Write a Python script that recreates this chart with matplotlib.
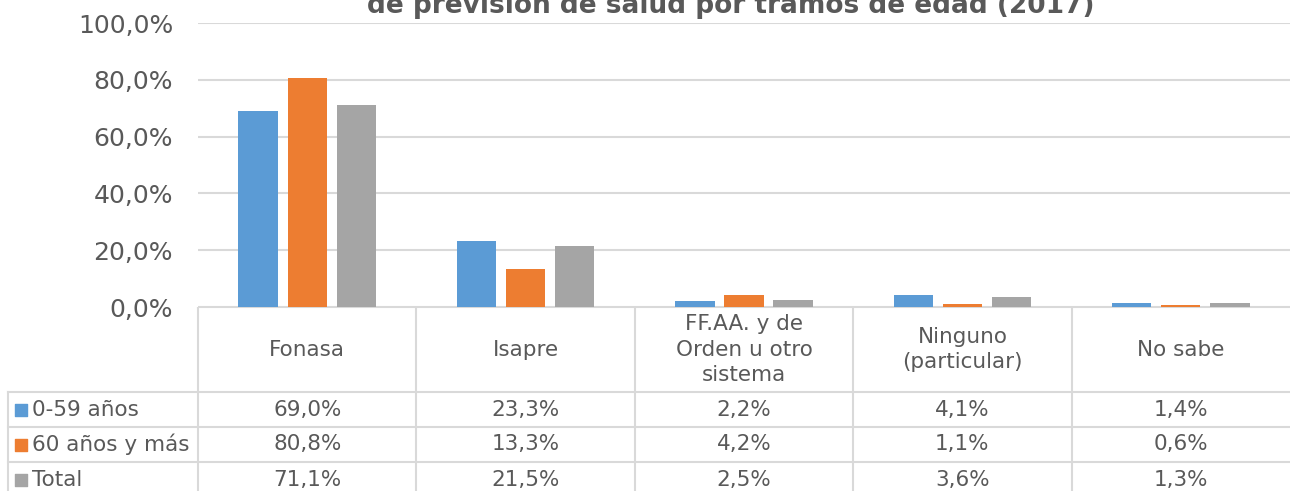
import matplotlib
matplotlib.use("Agg")
from matplotlib import pyplot as plt
import numpy as np

# Data
categories = ["Fonasa", "Isapre", "FF.AA. y de\nOrden u otro\nsistema",
              "Ninguno\n(particular)", "No sabe"]
series_names = ["0-59 años", "60 años y más", "Total"]
edad_0_59 = [69.0, 23.3, 2.2, 4.1, 1.4]
edad_60_mas = [80.8, 13.3, 4.2, 1.1, 0.6]
total = [71.1, 21.5, 2.5, 3.6, 1.3]
colors = ["#5B9BD5", "#ED7D31", "#A5A5A5"]
title = "de previsión de salud por tramos de edad (2017)"

text_color = "#595959"
grid_color = "#D9D9D9"

W, H = 1290, 491
fig = plt.figure(figsize=(W / 100, H / 100), dpi=100)

# Plot area in pixels
left, right, top, bottom = 198, 1290, 23, 307
ax = fig.add_axes([left / W, (H - bottom) / H, (right - left) / W, (bottom - top) / H])

series = [edad_0_59, edad_60_mas, total]
x = np.arange(len(categories))
width = 0.18
step = 0.225
for i, (vals, col) in enumerate(zip(series, colors)):
    ax.bar(x + (i - 1) * step, vals, width=width, color=col, zorder=3)

ax.set_xlim(-0.5, len(categories) - 0.5)
ax.set_ylim(0, 100)
ax.set_yticks(np.arange(0, 101, 20))
ax.set_yticklabels([f"{v:.1f}%".replace(".", ",") for v in np.arange(0, 101, 20)])
ax.tick_params(axis="y", length=0, pad=18, labelsize=18, labelcolor=text_color)
ax.set_xticks([])
for s in ax.spines.values():
    s.set_visible(False)
ax.yaxis.grid(True, color=grid_color, linewidth=1.5, zorder=0)
ax.set_axisbelow(True)

# the first title line lies above the picture; only its second line shows
fig.text(731 / W, (H - 13) / H, title, ha="center", va="baseline",
         fontsize=19, fontweight="bold", color=text_color)

# Data table below the plot, in pixel units (y measured down from axis line)
unit = (right - left) / len(categories)
def px2x(px):
    return -0.5 + (px - left) / unit

tab = fig.add_axes([0, 0, 1, (H - bottom) / H])
tab.set_xlim(px2x(0), len(categories) - 0.5)
tab.set_ylim(H - bottom, 0)
tab.axis("off")

header_h = 85
row_h = 35
lw = 1.5
tab.plot([-0.5, len(categories) - 0.5], [0, 0], color=grid_color, lw=lw)
for r in range(3):
    yy = header_h + r * row_h
    tab.plot([px2x(8), len(categories) - 0.5], [yy, yy], color=grid_color, lw=lw)
for c in range(len(categories)):
    tab.plot([c - 0.5, c - 0.5], [0, H - bottom], color=grid_color, lw=lw)
tab.plot([px2x(8), px2x(8)], [header_h, H - bottom], color=grid_color, lw=lw)

for c, name in enumerate(categories):
    tab.text(c, header_h / 2, name, ha="center", va="center",
             fontsize=15.5, color=text_color, linespacing=1.35)

for r, (name, vals, col) in enumerate(zip(series_names, series, colors)):
    yc = header_h + r * row_h + row_h / 2
    tab.scatter([px2x(21)], [yc], marker="s", s=80, color=col)
    tab.text(px2x(32), yc, name, ha="left", va="center",
             fontsize=15.5, color=text_color)
    for c, v in enumerate(vals):
        tab.text(c, yc, f"{v:.1f}%".replace(".", ","), ha="center", va="center",
                 fontsize=15.5, color=text_color)

fig.savefig("out.png", dpi=100)
